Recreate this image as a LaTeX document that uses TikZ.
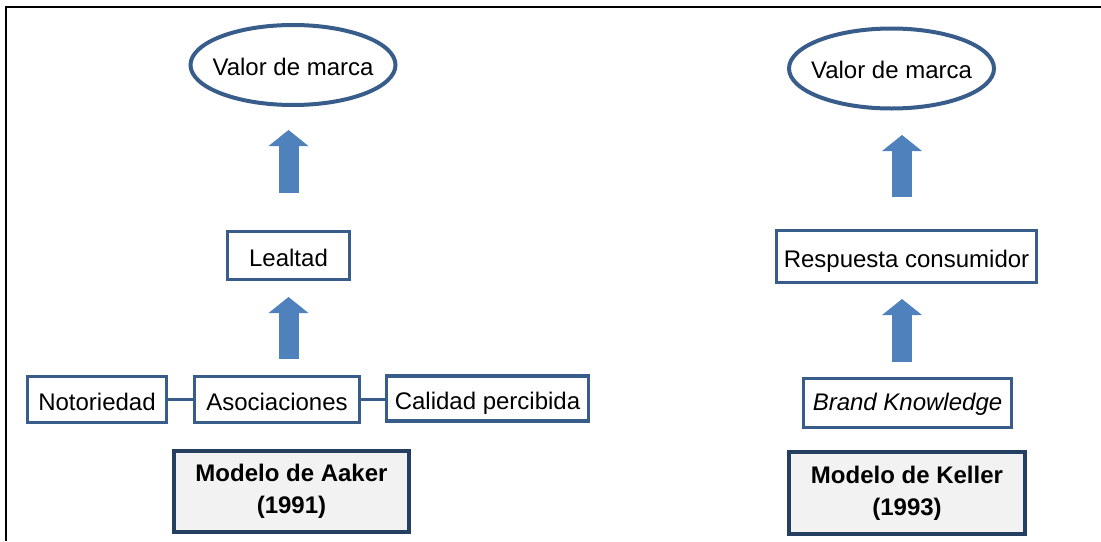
\documentclass[tikz,border=0pt]{standalone}
\usepackage{fontspec}
\setmainfont{Liberation Sans}
\usetikzlibrary{shapes.geometric,arrows.meta}

\definecolor{boxblue}{HTML}{385D8A}
\definecolor{darkblue}{HTML}{243F60}
\definecolor{arrowblue}{HTML}{4F81BD}
\definecolor{palegray}{HTML}{F2F2F2}

\tikzset{
  valor/.style={ellipse, draw=boxblue, line width=2pt, minimum width=102.5pt, minimum height=40pt, inner sep=0pt,
    text height=10pt, text depth=0pt},
  factor/.style={rectangle, draw=boxblue, line width=1.6pt, inner sep=0pt, minimum height=23pt,
    text height=10.5pt, text depth=0pt},
  modelo/.style={rectangle, draw=darkblue, fill=palegray, line width=2pt, inner sep=0pt, align=center,
    font=\fontsize{12}{16}\selectfont\bfseries},
  link/.style={draw=boxblue, line width=1.6pt},
  bigarrow/.style={arrowblue, line width=10pt, -{Triangle[width=19.5pt,length=8pt]}}
}

\begin{document}
\begin{tikzpicture}[x=0.5pt,y=-0.5pt,font=\fontsize{12}{16}\selectfont]
\useasboundingbox (0,0) rectangle (1101,541);
\draw[line width=1.25pt] (1101,7) -- (6,7) -- (6,541);

% Aaker
\node[valor] (valA) at (293,65) {\makebox[0pt]{Valor de marca}};
\node[factor, minimum width=61pt, minimum height=24pt] (leal) at (288.5,255.5) {Lealtad};
\node[factor, minimum width=69.5pt] (noto) at (97,399.5) {Notoriedad};
\node[factor, minimum width=82.5pt] (asoc) at (277,399.5) {Asociaciones};
\node[factor, minimum width=101pt, minimum height=22.5pt] (cali) at (487.5,398.5) {Calidad percibida};
\draw[link] (noto.east) -- (asoc.west);
\draw[link] (asoc.east) -- (asoc.east -| cali.west);
\node[modelo, minimum width=117.5pt, minimum height=40.5pt] (aaker) at (291.5,491.5) {Modelo de Aaker\\(1991)};

\coordinate (a1s) at (288.5,193);
\coordinate (a1e) at (288.5,130);
\coordinate (a2s) at (288.5,359);
\coordinate (a2e) at (288.5,297);
\draw[bigarrow] (a1s) -- (a1e);
\draw[bigarrow] (a2s) -- (a2e);

% Keller
\node[valor] (valK) at (891.5,68.5) {\makebox[0pt]{Valor de marca}};
\node[factor, minimum width=130pt, minimum height=26pt] (resp) at (906.5,256.5) {Respuesta consumidor};
\node[factor, minimum width=104pt, minimum height=24.5pt, text height=7pt] (brand) at (907.5,403) {\itshape Brand Knowledge};
\node[modelo, minimum width=118pt, minimum height=41pt] (keller) at (907,493) {Modelo de Keller\\(1993)};

\coordinate (k1s) at (902,197);
\coordinate (k1e) at (902,135);
\coordinate (k2s) at (902,362);
\coordinate (k2e) at (902,299);
\draw[bigarrow] (k1s) -- (k1e);
\draw[bigarrow] (k2s) -- (k2e);
\end{tikzpicture}
\end{document}
